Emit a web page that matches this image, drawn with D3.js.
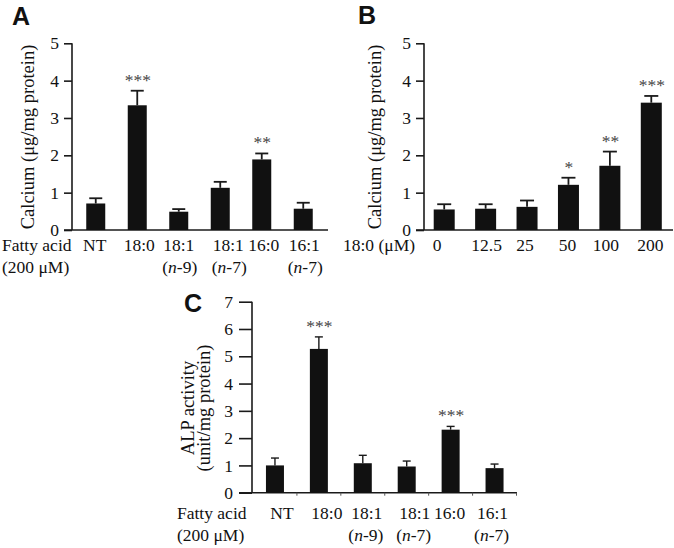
<!DOCTYPE html>
<html><head><meta charset="utf-8">
<script src="https://cdn.jsdelivr.net/npm/d3@7"></script>
<style>
body{margin:0;background:#fff}
svg text{font-family:"Liberation Serif","Times New Roman",serif !important;fill:#111}
svg text.letter{font-family:"Liberation Sans",Arial,sans-serif !important;font-weight:bold;font-size:25px}
</style></head><body><svg id="c" width="674" height="548" font-family="Liberation Serif"></svg>
<script>
// ---- data ----
const catsA = ["NT","18:0","18:1 (n-9)","18:1 (n-7)","16:0","16:1 (n-7)"];
const labA1 = ["NT","18:0","18:1","18:1","16:0","16:1"];
const labA2 = ["","","n-9","n-7","","n-7"];
const valA = [0.71, 3.34, 0.49, 1.13, 1.89, 0.57];
const errA = [0.85, 3.73, 0.56, 1.29, 2.05, 0.73];
const sigA = ["", "***", "", "", "**", ""];

const catsB = ["0","12.5","25","50","100","200"];
const valB = [0.55, 0.57, 0.62, 1.21, 1.72, 3.41];
const errB = [0.69, 0.69, 0.79, 1.40, 2.10, 3.59];
const sigB = ["", "", "", "*", "**", "***"];

const catsC = catsA;
const valC = [1.00, 5.27, 1.08, 0.96, 2.31, 0.90];
const errC = [1.27, 5.71, 1.37, 1.16, 2.43, 1.05];
const sigC = ["", "***", "", "", "***", ""];

const ticksAB = [0,1,2,3,4,5];
const ticksC = [0,1,2,3,4,5,6,7];

// ---- drawing ----
const svg = d3.select("#c");
const AX = "#1a1a1a";
const SERIF = "Liberation Serif";

function panel(o){
  const g = svg.append("g");
  const x = d3.scaleBand().domain(o.cats).range(o.xr).padding(0);
  const y = d3.scaleLinear().domain(o.yd).range(o.yr);
  const ya = d3.axisLeft(y).tickValues(o.ticks).tickSize(o.tickLen).tickPadding(o.tickPad).tickFormat(d3.format("d"));
  const yg = g.append("g").attr("transform",`translate(${o.xr0},0)`).call(ya)
    .attr("font-family",SERIF).attr("font-size",17.5);
  yg.select(".domain").attr("d",`M0,${o.yr[1]}V${o.yr[0]}`).attr("stroke",AX).attr("stroke-width",1.6);
  yg.selectAll(".tick line").attr("stroke",AX).attr("stroke-width",1.6);
  yg.selectAll(".tick text").attr("fill","#111");
  g.append("line").attr("x1",o.xr0 - o.tickLen).attr("x2",o.xEnd).attr("y1",o.yr[0]).attr("y2",o.yr[0])
    .attr("stroke",AX).attr("stroke-width",1.6);
  if(o.xTicks){
    const edges = o.cats.map(c=>x(c)).concat([x(o.cats[o.cats.length-1])+x.step()]);
    g.selectAll(".xt").data(edges.slice(1)).enter().append("line")
      .attr("x1",d=>d).attr("x2",d=>d).attr("y1",o.yr[0]).attr("y2",o.yr[0]+3)
      .attr("stroke","#555").attr("stroke-width",1);
  }
  const cx = c => x(c) + x.bandwidth()/2;
  o.cats.forEach((c,i)=>{
    g.append("line").attr("x1",cx(c)).attr("x2",cx(c)).attr("y1",y(o.vals[i])).attr("y2",y(o.errs[i]))
      .attr("stroke",AX).attr("stroke-width",o.ew);
    g.append("line").attr("x1",cx(c)-o.cap/2).attr("x2",cx(c)+o.cap/2).attr("y1",y(o.errs[i])).attr("y2",y(o.errs[i]))
      .attr("stroke",AX).attr("stroke-width",o.ew);
  });
  g.selectAll(".bar").data(o.cats).enter().append("rect")
    .attr("x",c=>cx(c)-o.bw/2).attr("width",o.bw)
    .attr("y",(c,i)=>y(o.vals[i])).attr("height",(c,i)=>y(0)-y(o.vals[i]))
    .attr("fill","#111");
  g.selectAll(".sig").data(o.cats).enter().append("text")
    .attr("x",c=>cx(c)+0.5).attr("y",(c,i)=>y(o.errs[i])-o.sigOff)
    .attr("text-anchor","middle").attr("font-size",17.5).attr("font-family",SERIF).style("fill","#444")
    .text((c,i)=>o.sig[i]);
  return {x,y,cx,g};
}

const pA = panel({cats:catsA, vals:valA, errs:errA, sig:sigA, xr:[75,324], xr0:72, xEnd:328,
  yd:[0,5], yr:[230,43.3], ticks:ticksAB, tickLen:8, tickPad:5, bw:19, cap:13, ew:1.8, sigOff:5});
const pB = panel({cats:catsB, vals:valB, errs:errB, sig:sigB, xr:[423.5,672], xr0:424, xEnd:673,
  yd:[0,5], yr:[230,43.3], ticks:ticksAB, tickLen:8, tickPad:5, bw:21, cap:14, ew:1.8, sigOff:5});
const pC = panel({cats:catsC, vals:valC, errs:errC, sig:sigC, xr:[253,516.5], xr0:252, xEnd:517,
  yd:[0,7], yr:[492.7,301.7], ticks:ticksC, tickLen:13, tickPad:6, bw:18, cap:8, ew:1.4, sigOff:5, xTicks:true});

function txt(x,y,s,anchor,size){
  return svg.append("text").attr("x",x).attr("y",y).attr("text-anchor",anchor||"start")
    .attr("font-family",SERIF).attr("font-size",size||17.5).text(s);
}
function nlab(x, y, s){
  if(!s) return;
  const t = svg.append("text").attr("x",x).attr("y",y).attr("text-anchor","middle")
    .attr("font-family",SERIF).attr("font-size",17.5);
  t.append("tspan").text("(");
  t.append("tspan").style("font-style","italic").text("n");
  t.append("tspan").text(s.slice(1)+")");
}

const shiftA = [-1, 2, 0, 8, 2, 1];
txt(2,251,"Fatty acid"); txt(2,273,"(200 μM)");
catsA.forEach((c,i)=>{
  txt(pA.cx(c)+shiftA[i],251,labA1[i],"middle");
  nlab(pA.cx(c)+shiftA[i]+1,273,labA2[i]);
});
const shiftB = [-7, 1, -2, -1, -4, -1];
txt(343,251,"18:0 (μM)");
catsB.forEach((c,i)=>txt(pB.cx(c)+shiftB[i],251,c,"middle"));
const shiftC = [7, 8, 4, 8, -1, -2];
txt(177,519,"Fatty acid"); txt(177,541,"(200 μM)");
catsC.forEach((c,i)=>{
  txt(pC.cx(c)+shiftC[i],519,labA1[i],"middle");
  nlab(pC.cx(c)+shiftC[i]-1,541,labA2[i]);
});

function ytitle(x,y,s){
  svg.append("text").attr("transform",`translate(${x},${y}) rotate(-90)`).attr("text-anchor","middle")
    .attr("font-family",SERIF).attr("font-size",18.5).text(s);
}
ytitle(34,137,"Calcium (μg/mg protein)");
ytitle(381,137,"Calcium (μg/mg protein)");
ytitle(194,408,"ALP activity");
ytitle(210,408,"(unit/mg protein)");

svg.append("text").attr("class","letter").attr("x",12).attr("y",25).text("A");
svg.append("text").attr("class","letter").attr("x",358).attr("y",24).text("B");
svg.append("text").attr("class","letter").attr("x",184).attr("y",312).text("C");
</script></body></html>
